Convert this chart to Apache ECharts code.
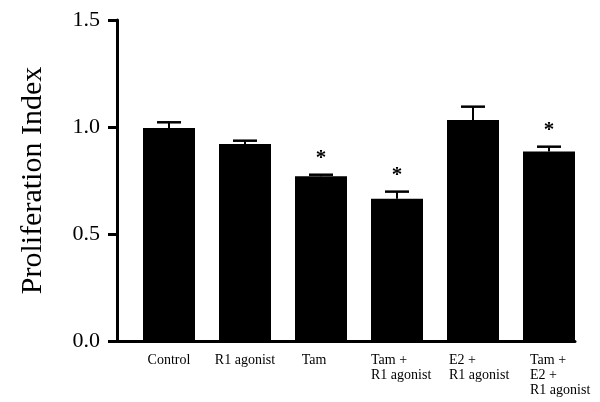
<!DOCTYPE html>
<html>
<head>
<meta charset="utf-8">
<script src="https://cdn.jsdelivr.net/npm/echarts@6/dist/echarts.min.js"></script>
<style>
  html, body { margin: 0; padding: 0; background: #fff; }
  #chart { width: 600px; height: 402px; }
</style>
</head>
<body>
<div id="chart"></div>
<script>
// data
var categories = ['Control', 'R1 agonist', 'Tam', 'Tam +\nR1 agonist', 'E2 +\nR1 agonist', 'Tam +\nE2 +\nR1 agonist'];
var means = [0.995, 0.92, 0.77, 0.665, 1.033, 0.885];
var errors = [0.027, 0.016, 0.007, 0.033, 0.062, 0.023];
var significant = [false, false, true, true, false, true];
var yMin = 0, yMax = 1.5, yStep = 0.5;

// small horizontal nudges of the x labels (px), the original isn't exactly centred
var labelShift = [0, 0, -7, 5, 7, 12];

var serif = 'Liberation Serif';
var chart = echarts.init(document.getElementById('chart'));

var errData = categories.map(function (c, i) {
    return [i, means[i], errors[i], significant[i] ? 1 : 0];
});

var rich = {};
categories.forEach(function (c, i) {
    var s = labelShift[i];
    var st = { fontFamily: serif, fontSize: 14, lineHeight: 15, color: '#000',
               padding: s > 0 ? [0, 0, 0, 2 * s] : [0, -2 * s, 0, 0] };
    if (c.indexOf('\n') >= 0) { st.width = 62; st.align = 'left'; }
    rich['s' + i] = st;
});

var option = {
    backgroundColor: '#fff',
    animation: false,
    grid: [
        { left: 131, width: 456, top: 20, bottom: 61 },
        // only used to draw the x axis line from the y axis to the last bar
        { left: 117, width: 458, top: 20, bottom: 61 }
    ],
    xAxis: [{
        type: 'category',
        gridIndex: 0,
        data: categories,
        axisLine: { show: false },
        axisTick: { show: false },
        axisLabel: {
            margin: 12,
            interval: 0,
            formatter: function (v, idx) {
                return v.split('\n').map(function (s) { return '{s' + idx + '|' + s + '}'; }).join('\n');
            },
            rich: rich
        }
    }, {
        type: 'value',
        gridIndex: 1,
        min: 0, max: 1,
        axisLine: { show: true, onZero: false, lineStyle: { color: '#000', width: 3 } },
        axisTick: { show: false },
        axisLabel: { show: false },
        splitLine: { show: false }
    }],
    yAxis: [{
        type: 'value',
        gridIndex: 0,
        min: yMin, max: yMax, interval: yStep,
        offset: 14,
        name: 'Proliferation Index',
        nameLocation: 'middle',
        nameGap: 69,
        nameTextStyle: { fontFamily: serif, fontSize: 30, color: '#000' },
        axisLine: { show: true, lineStyle: { color: '#000', width: 3 } },
        axisTick: { show: true, length: 9, lineStyle: { color: '#000', width: 3 } },
        axisLabel: {
            margin: 17,
            fontFamily: serif, fontSize: 22, color: '#000',
            formatter: function (v) { return v.toFixed(1); }
        },
        splitLine: { show: false }
    }, {
        type: 'value',
        gridIndex: 1,
        show: false
    }],
    series: [{
        type: 'bar',
        xAxisIndex: 0, yAxisIndex: 0,
        data: means,
        barWidth: 52,
        itemStyle: { color: '#000' }
    }, {
        type: 'custom',
        xAxisIndex: 0, yAxisIndex: 0,
        data: errData,
        z: 5,
        renderItem: function (params, api) {
            var i = api.value(0);
            var base = api.coord([i, api.value(1)]);
            var top = api.coord([i, api.value(1) + api.value(2)]);
            var children = [{
                type: 'line',
                shape: { x1: base[0], y1: base[1], x2: top[0], y2: top[1] },
                style: { stroke: '#000', lineWidth: 2 }
            }, {
                type: 'line',
                shape: { x1: top[0] - 12, y1: top[1], x2: top[0] + 12, y2: top[1] },
                style: { stroke: '#000', lineWidth: 2.5 }
            }];
            if (api.value(3)) {
                children.push({
                    type: 'text',
                    style: {
                        x: top[0], y: top[1] - 6,
                        text: '*',
                        fontFamily: serif, fontSize: 21, fontWeight: 'bold', fill: '#000',
                        align: 'center', verticalAlign: 'bottom'
                    }
                });
            }
            return { type: 'group', children: children };
        }
    }]
};

chart.setOption(option);
</script>
</body>
</html>
